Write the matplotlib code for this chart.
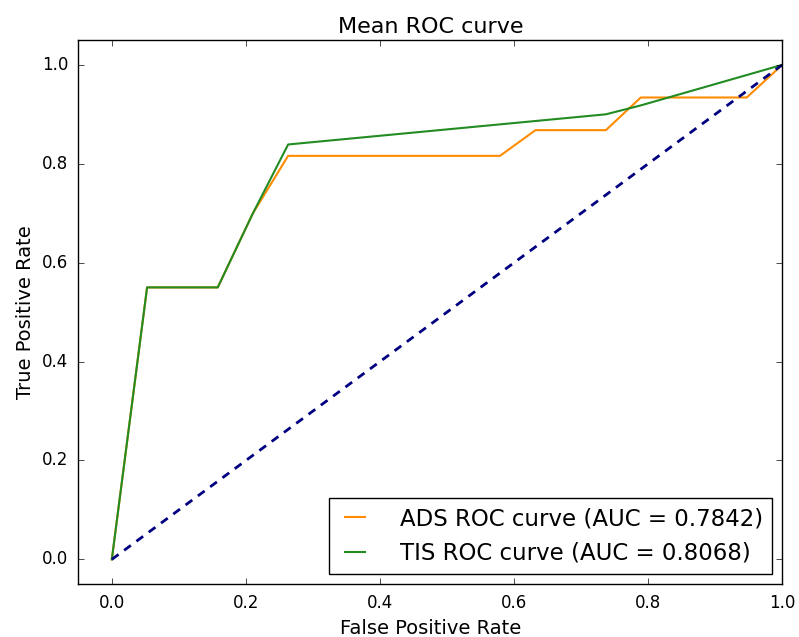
import numpy as np
import matplotlib
matplotlib.use('Agg')
import matplotlib.pyplot as plt

# ROC points
ads_fpr = [0.0, 0.0526, 0.158, 0.2105, 0.263, 0.579, 0.632, 0.737, 0.789, 0.947, 1.0]
ads_tpr = [0.0, 0.55, 0.55, 0.70, 0.816, 0.816, 0.868, 0.868, 0.934, 0.934, 1.0]
tis_fpr = [0.0, 0.0526, 0.158, 0.2105, 0.263, 0.737, 0.789, 1.0]
tis_tpr = [0.0, 0.55, 0.55, 0.70, 0.839, 0.90, 0.918, 1.0]
ads_auc = 0.7842
tis_auc = 0.8068

plt.style.use('classic')
fig = plt.figure(figsize=(7.99, 6.37), dpi=100, facecolor='white')
ax = fig.add_axes([0.098, 0.083, 0.881, 0.854])

ax.plot(ads_fpr, ads_tpr, color='darkorange', lw=1.5,
        label='ADS ROC curve (AUC = %0.4f)' % ads_auc)
ax.plot(tis_fpr, tis_tpr, color='forestgreen', lw=1.5,
        label='TIS ROC curve (AUC = %0.4f)' % tis_auc)
ax.plot([0, 1], [0, 1], color='navy', lw=2, linestyle='--', dashes=(6, 5))

ax.set_xlim(-0.05, 1.0)
ax.set_ylim(-0.05, 1.05)
ax.set_xticks([0.0, 0.2, 0.4, 0.6, 0.8, 1.0])
ax.set_yticks([0.0, 0.2, 0.4, 0.6, 0.8, 1.0])
ax.tick_params(labelsize=12, pad=7)
ax.set_xlabel('False Positive Rate', fontsize=14)
ax.set_ylabel('True Positive Rate', fontsize=14)
ax.set_title('Mean ROC curve', fontsize=16)
ax.legend(loc='lower right', fontsize=16.5, handlelength=1.5,
          handletextpad=1.2, borderpad=0.4, borderaxespad=0.45)

fig.savefig('out.png', dpi=100, facecolor='white')
